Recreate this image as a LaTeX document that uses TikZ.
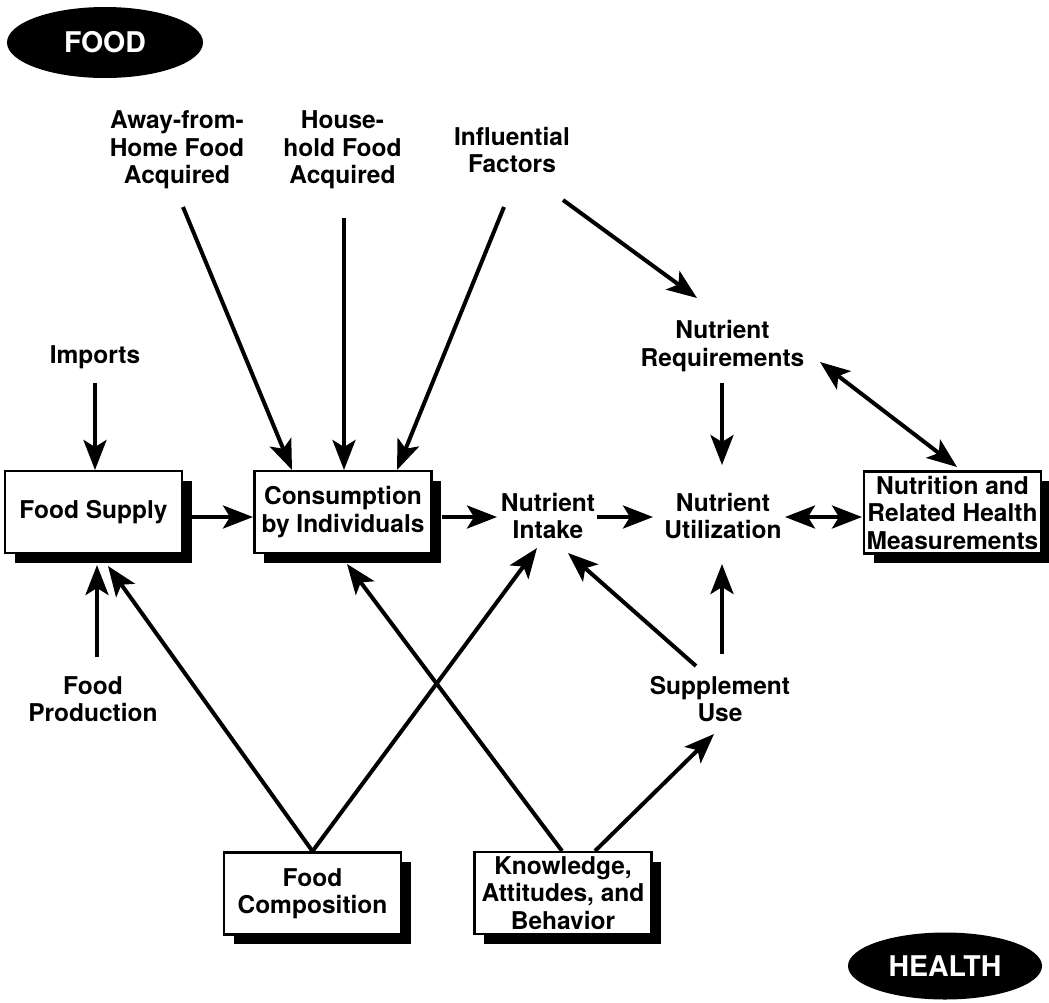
\documentclass[tikz,border=0pt]{standalone}
\usepackage{fontspec}
\setmainfont{TeX Gyre Heros}
\usetikzlibrary{arrows.meta,shapes.geometric,shadows,calc}
\begin{document}
\begin{tikzpicture}[x=1pt,y=-1pt,
  lbl/.style={align=center, inner sep=0pt, font=\fontsize{24.5}{27.5}\selectfont\bfseries},
  sbox/.style={lbl, draw, line width=2.5pt, fill=white, minimum width=177pt, minimum height=82pt,
     general shadow={fill=black, shadow xshift=9.5pt, shadow yshift=-9.5pt}},
  oval/.style={ellipse, fill=black, inner sep=0pt, text=white, font=\fontsize{28.5}{30}\selectfont\bfseries},
  arr/.style={line width=4pt, -{Stealth[length=30pt,width=23pt,inset=7pt]}},
  dbl/.style={line width=4pt, {Stealth[length=30pt,width=23pt,inset=7pt]}-{Stealth[length=30pt,width=23pt,inset=7pt]}}
]
\useasboundingbox (0,0) rectangle (1049,1002);

% ovals
\node[oval, minimum width=196pt, minimum height=71pt] (food) at (105,42.5) {FOOD};
\node[oval, minimum width=194pt, minimum height=67pt] (health) at (945,966) {HEALTH};

% boxes
\node[sbox] (supply) at (93.5,512) {Food Supply};
\node[sbox] (cons) at (343,512) {Consumption\\by Individuals};
\node[sbox] (nutr) at (952.5,512.5) {Nutrition and\\Related Health\\Measurements};
\node[sbox] (comp) at (312.5,893.5) {Food\\Composition};
\node[sbox] (know) at (563,893) {Knowledge,\\Attitudes, and\\Behavior};

% text labels
\node[lbl] (away) at (177,150) {Away-from-\\Home Food\\Acquired};
\node[lbl] (house) at (342.5,150) {House-\\hold Food\\Acquired};
\node[lbl] (infl) at (512,150) {Influential\\Factors};
\node[lbl] (imports) at (95,357) {Imports};
\node[lbl] (req) at (722.5,346) {Nutrient\\Requirements};
\node[lbl] (intake) at (548,516) {Nutrient\\Intake};
\node[lbl] (util) at (723,516) {Nutrient\\Utilization};
\node[lbl] (supp) at (720,699) {Supplement\\Use};
\node[lbl] (prod) at (93,699) {Food\\Production};

% connectors
\draw[arr] ($(away.center)+(6,57)$) -- ($(cons.center)+(-51,-42)$);
\draw[arr] ($(house.center)+(1.5,68)$) -- ($(cons.center)+(1,-42)$);
\draw[arr] ($(infl.center)+(-8,57)$) -- ($(cons.center)+(54,-42)$);
\draw[arr] ($(infl.center)+(51,50)$) -- ($(req.center)+(-25.5,-48)$);
\draw[arr] ($(imports.center)+(0,26)$) -- ($(supply.center)+(1.5,-42)$);
\draw[arr] ($(prod.center)+(4,-42)$) -- ($(supply.center)+(3.5,53)$);
\draw[arr] (comp.north) -- ($(supply.center)+(14.5,54)$);
\draw[arr] (comp.north) -- ($(intake.center)+(-11,32)$);
\draw[arr] ($(supply.center)+(98.5,5)$) -- ($(cons.center)+(-90,5)$);
\draw[arr] ($(cons.center)+(99,5)$) -- ($(intake.center)+(-51,1)$);
\draw[arr] ($(intake.center)+(49,1)$) -- ($(util.center)+(-70,1)$);
\draw[dbl] ($(util.center)+(62,1)$) -- ($(nutr.center)+(-90.5,4.5)$);
\draw[arr] ($(req.center)+(-0.5,37)$) -- ($(util.center)+(-1,-51)$);
\draw[dbl] ($(req.center)+(97.5,16)$) -- ($(nutr.center)+(4.5,-45.5)$);
\draw[arr] ($(know.center)+(-1,-42)$) -- ($(cons.center)+(4,52)$);
\draw[arr] ($(know.center)+(32,-42)$) -- ($(supp.center)+(-6,35)$);
\draw[arr] ($(supp.center)+(-24,-33)$) -- ($(intake.center)+(20,37)$);
\draw[arr] ($(supp.center)+(2,-45)$) -- ($(util.center)+(-1,48)$);
\end{tikzpicture}
\end{document}
